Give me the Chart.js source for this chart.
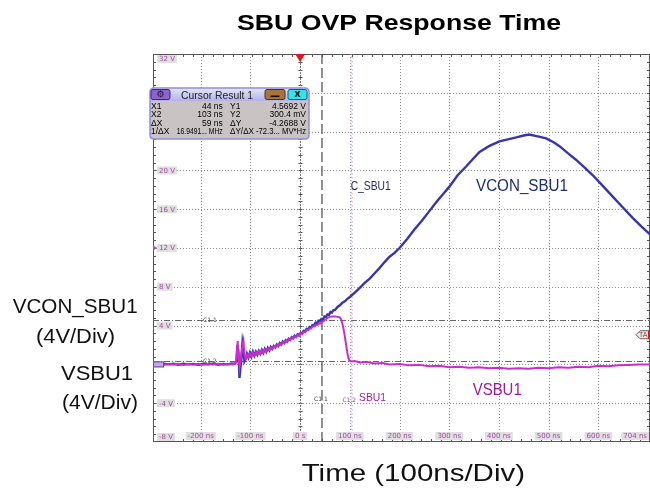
<!DOCTYPE html>
<html><head><meta charset="utf-8">
<script src="https://cdn.jsdelivr.net/npm/chart.js@4/dist/chart.umd.min.js"></script>
<style>html,body{margin:0;padding:0;background:#fff;}canvas{display:block}</style>
</head><body>
<canvas id="c" width="650" height="488"></canvas>
<script>
// ---- data ----
const vconTime = [-296,-285,-275,-265,-255,-245,-235,-225,-215,-205,-195,-185,-175,-165,-155,-145,-138,-132,-128,-126,-124,-122,-120,-118,-116,-114,-112,-110,-107,-104,-101,-98,-95,-92,-89,-86,-83,-80,-77,-74,-71,-68,-65,-62,-59,-56,-53,-50,-47,-44,-41,-38,-35,-32,-29,-26,-23,-20,-17,-14,-11,-8,-5,-2,1,4,7,10,13,16,19,22,25,28,31,34,37,40,43,46,49,52,55,58,61,64,67,70,75,80,85,90,95,100,110,120,130,140,150,160,170,180,190,200,215,230,245,260,275,290,300,317,334,350,361,380,401,418,435,450,461,478,495,510,522,538,555,572,589,609,629,649,669,687,704];
const vconVolts = [0.05,-0.05,0.08,0.0,0.06,-0.04,0.07,0.0,0.05,-0.05,0.06,0.0,0.08,-0.03,0.05,0.0,0.1,0.05,0.3,2.0,1.2,-1.4,-0.3,0.6,2.2,1.5,0.3,0.5,1.1,0.7,1.2,0.8,1.3,0.9,1.3,1.0,1.4,1.1,1.5,1.2,1.6,1.3,1.7,1.45,1.8,1.6,1.9,1.75,2.05,1.9,2.2,2.05,2.35,2.2,2.5,2.35,2.65,2.55,2.8,2.7,2.95,2.85,3.1,3.0,3.25,3.2,3.45,3.4,3.65,3.6,3.85,3.8,4.05,4.0,4.3,4.25,4.5,4.45,4.7,4.65,4.95,4.9,5.15,5.1,5.4,5.35,5.6,5.6,5.9,6.1,6.35,6.5,6.75,6.95,7.4,7.9,8.4,8.85,9.4,9.95,10.55,11.1,11.5,12.0,12.9,13.9,14.8,15.8,16.8,17.7,18.3,19.5,20.4,21.3,21.9,22.5,23.0,23.2,23.4,23.6,23.7,23.5,23.3,22.9,22.5,21.8,21.1,20.3,19.5,18.4,17.3,16.2,15.1,14.2,13.4];

const vsbuTime = [-296,-285,-275,-265,-255,-245,-235,-225,-215,-205,-195,-185,-175,-165,-155,-145,-135,-129,-127,-125.5,-124,-122,-120,-117,-114,-112,-110,-107,-104,-101,-98,-95,-92,-89,-86,-83,-80,-77,-74,-71,-68,-65,-62,-59,-56,-53,-50,-47,-44,-41,-38,-35,-32,-29,-26,-23,-20,-17,-14,-11,-8,-5,-2,1,4,7,10,13,16,19,22,25,28,31,34,37,40,43,46,49,52,55,60,65,70,75,80,83,86,89,92,95,97,99,103,110,120,135,150,165,180,200,220,240,260,280,300,320,340,360,380,400,420,440,460,480,500,520,540,560,580,600,620,640,660,680,704];
const vsbuVolts = [0.0,0.08,-0.05,0.05,-0.02,0.07,-0.05,0.04,-0.03,0.06,-0.04,0.05,0.0,0.07,-0.03,0.05,0.0,0.2,1.5,2.4,0.8,-0.3,0.4,1.6,2.4,1.0,0.6,1.0,0.75,1.1,0.85,1.2,0.95,1.25,1.05,1.35,1.1,1.45,1.25,1.55,1.35,1.65,1.5,1.75,1.6,1.85,1.75,2.0,1.9,2.15,2.05,2.3,2.2,2.45,2.35,2.6,2.5,2.75,2.65,2.9,2.8,3.05,2.95,3.2,3.15,3.35,3.3,3.55,3.5,3.7,3.7,3.9,3.9,4.05,4.05,4.2,4.2,4.35,4.4,4.55,4.65,4.8,4.9,4.95,4.95,4.9,4.85,4.6,4.0,3.2,2.2,1.2,0.7,0.4,0.3,0.35,0.2,0.25,0.1,0.15,0.0,0.05,-0.1,-0.05,-0.2,-0.15,-0.3,-0.25,-0.35,-0.3,-0.4,-0.35,-0.45,-0.4,-0.45,-0.35,-0.4,-0.3,-0.35,-0.25,-0.3,-0.15,-0.2,-0.1,-0.05,0.0,0.0];

const xTickValues = [-200,-100,0,100,200,300,400,500,600,704];
const xTickLabels = ['-200 ns','-100 ns','0 s','100 ns','200 ns','300 ns','400 ns','500 ns','600 ns','704 ns'];
const yTickValues = [32,28,24,20,16,12,8,4,0,-4,-8];
const yTickLabels = ['32 V','28 V','24 V','20 V','16 V','12 V','8 V','4 V','','-4 V','-8 V'];
const cursorX = [44,103];
const cursorY = [4.5692,0.3004];
const triggerLevel = [3.06];
const cursorRows = [
  ['X1','44 ns','Y1','4.5692 V'],
  ['X2','103 ns','Y2','300.4 mV'],
  ['\u0394X','59 ns','\u0394Y','-4.2688 V'],
  ['1/\u0394X','16.9491... MHz','\u0394Y/\u0394X','-72.3... MV*Hz']
];

const FONT = "'Liberation Sans', Arial, sans-serif";

function spanText(ctx, txt, left, right, base, font, color){
  ctx.save();
  ctx.font = font; ctx.fillStyle = color;
  ctx.textAlign = 'left'; ctx.textBaseline = 'alphabetic';
  const w = ctx.measureText(txt).width;
  ctx.translate(left, base);
  ctx.scale((right-left)/w, 1);
  ctx.fillText(txt, 0, 0);
  ctx.restore();
}
function labelBox(ctx, txt, cx, cy, a, alignRight){
  ctx.font = "7px 'DejaVu Sans', sans-serif";
  const w = ctx.measureText(txt).width + 4, h = 8;
  let l = cx - w/2;
  if (alignRight) l = cx - w;
  if (l + w > a.right - 1) l = a.right - 1 - w;
  ctx.fillStyle = '#e0dfe0';
  ctx.fillRect(l, cy - h/2, w, h);
  ctx.fillStyle = '#a548a5';
  ctx.textAlign = 'left'; ctx.textBaseline = 'middle';
  ctx.fillText(txt, l + 2, cy + 0.5);
}
function rrect(ctx, x, y, w, h, r){
  ctx.beginPath();
  ctx.moveTo(x+r, y); ctx.lineTo(x+w-r, y); ctx.quadraticCurveTo(x+w, y, x+w, y+r);
  ctx.lineTo(x+w, y+h-r); ctx.quadraticCurveTo(x+w, y+h, x+w-r, y+h);
  ctx.lineTo(x+r, y+h); ctx.quadraticCurveTo(x, y+h, x, y+h-r);
  ctx.lineTo(x, y+r); ctx.quadraticCurveTo(x, y, x+r, y);
  ctx.closePath();
}

const scopePlugin = {
  id: 'scope',
  beforeDatasetsDraw(chart){
    const {ctx, chartArea: a, scales: {x, y}} = chart;
    ctx.save();
    // grid
    ctx.strokeStyle = '#8c8c8c'; ctx.lineWidth = 1; ctx.setLineDash([1,2]);
    xTickValues.forEach(v => {
      if (v <= x.min || v >= x.max) return;
      const px = Math.round(x.getPixelForValue(v)) + 0.5;
      ctx.beginPath(); ctx.moveTo(px, a.top); ctx.lineTo(px, a.bottom); ctx.stroke();
    });
    yTickValues.forEach(v => {
      if (v <= y.min || v >= y.max) return;
      const py = Math.round(y.getPixelForValue(v)) + 0.5;
      ctx.beginPath(); ctx.moveTo(a.left, py); ctx.lineTo(a.right, py); ctx.stroke();
    });
    ctx.setLineDash([]);
    // minor ticks along border and on 0 s line
    ctx.strokeStyle = '#555'; ctx.lineWidth = 1;
    const xStep = (x.max - x.min) / 50, yStep = (y.max - y.min) / 50;
    const x0 = Math.round(x.getPixelForValue(0)) + 0.5;
    for (let i = 1; i < 50; i++){
      const px = Math.round(x.getPixelForValue(x.min + i*xStep)) + 0.5;
      ctx.beginPath();
      ctx.moveTo(px, a.top); ctx.lineTo(px, a.top + 3);
      ctx.moveTo(px, a.bottom); ctx.lineTo(px, a.bottom - 3);
      ctx.stroke();
      const py = Math.round(y.getPixelForValue(y.min + i*yStep)) + 0.5;
      ctx.beginPath();
      ctx.moveTo(a.left, py); ctx.lineTo(a.left + 3, py);
      ctx.moveTo(a.right, py); ctx.lineTo(a.right - 3, py);
      ctx.moveTo(x0 - 2, py); ctx.lineTo(x0 + 2, py);
      ctx.stroke();
    }
    ctx.strokeStyle = '#777'; ctx.setLineDash([2,1]);
    ctx.beginPath(); ctx.moveTo(x0, a.top); ctx.lineTo(x0, a.bottom); ctx.stroke();
    ctx.setLineDash([]);
    // border
    ctx.strokeStyle = '#555';
    ctx.strokeRect(a.left + 0.5, a.top + 0.5, a.right - a.left - 1, a.bottom - a.top - 1);
    // horizontal cursors
    ctx.strokeStyle = '#666'; ctx.setLineDash([6,2,1,2]);
    cursorY.forEach(v => {
      const py = Math.round(y.getPixelForValue(v)) + 0.5;
      ctx.beginPath(); ctx.moveTo(a.left, py); ctx.lineTo(a.right, py); ctx.stroke();
    });
    // vertical cursors
    const cx1 = x.getPixelForValue(cursorX[0]);
    ctx.strokeStyle = '#555'; ctx.lineWidth = 1.3; ctx.setLineDash([10,4]);
    ctx.beginPath(); ctx.moveTo(cx1, a.top); ctx.lineTo(cx1, a.bottom); ctx.stroke();
    const cx2 = x.getPixelForValue(cursorX[1]);
    ctx.strokeStyle = '#c38fcf'; ctx.lineWidth = 1; ctx.setLineDash([1,2]);
    ctx.beginPath(); ctx.moveTo(cx2 - 0.5, a.top); ctx.lineTo(cx2 - 0.5, a.bottom); ctx.stroke();
    ctx.setLineDash([]);
    for (let py = a.top + 3; py < a.bottom; py += 4){
      ctx.beginPath(); ctx.moveTo(cx2, py); ctx.lineTo(cx2 + 1.5, py + 1); ctx.stroke();
    }
    ctx.restore();
  },
  afterDatasetsDraw(chart){
    const {ctx, chartArea: a, scales: {x, y}} = chart;
    ctx.save();
    // y tick labels
    yTickValues.forEach((v, i) => {
      if (!yTickLabels[i]) return;
      let cy = y.getPixelForValue(v);
      cy = Math.min(Math.max(cy, a.top + 5), a.bottom - 5);
      ctx.font = "7px 'DejaVu Sans', sans-serif";
      const w = ctx.measureText(yTickLabels[i]).width + 4;
      labelBox(ctx, yTickLabels[i], a.left + 4 + w/2, cy, a);
    });
    // x tick labels
    xTickValues.forEach((v, i) => {
      labelBox(ctx, xTickLabels[i], x.getPixelForValue(v), a.bottom - 6, a);
    });
    // channel / position markers
    const y0 = y.getPixelForValue(0);
    ctx.fillStyle = '#c9a6e6'; ctx.strokeStyle = '#6a4aa8'; ctx.lineWidth = 1;
    ctx.fillRect(a.left, y0 - 3, 11, 6); ctx.strokeRect(a.left + 0.5, y0 - 2.5, 10, 5);
    const y12 = y.getPixelForValue(12);
    ctx.fillStyle = '#b050c0';
    ctx.beginPath(); ctx.moveTo(a.left, y12 - 3); ctx.lineTo(a.left + 4, y12); ctx.lineTo(a.left, y12 + 3); ctx.closePath(); ctx.fill();
    // trigger position triangle
    const xt = x.getPixelForValue(0);
    ctx.fillStyle = '#e3141c';
    ctx.beginPath(); ctx.moveTo(xt - 5, a.top); ctx.lineTo(xt + 5, a.top); ctx.lineTo(xt, a.top + 8); ctx.closePath(); ctx.fill();
    // trigger level marker "TA"
    const yt = y.getPixelForValue(triggerLevel[0]);
    ctx.fillStyle = '#efe6e6'; ctx.strokeStyle = '#7a5a5a';
    ctx.beginPath();
    ctx.moveTo(a.right - 14, yt); ctx.lineTo(a.right - 10, yt - 4); ctx.lineTo(a.right, yt - 4);
    ctx.lineTo(a.right, yt + 4); ctx.lineTo(a.right - 10, yt + 4); ctx.closePath();
    ctx.fill(); ctx.stroke();
    ctx.fillStyle = '#d01818'; ctx.fillRect(a.right - 2, yt - 4, 2, 8);
    ctx.fillStyle = '#7a4a4a'; ctx.font = "7px 'DejaVu Sans', sans-serif";
    ctx.textAlign = 'left'; ctx.textBaseline = 'middle';
    ctx.fillText('TA', a.right - 11, yt + 0.5);
    // cursor labels
    ctx.font = "6px 'DejaVu Sans', sans-serif"; ctx.textBaseline = 'alphabetic';
    ctx.fillStyle = '#444';
    ctx.fillText('C1.1', a.left + 50, y.getPixelForValue(cursorY[0]) + 2);
    ctx.fillText('C1.2', a.left + 50, y.getPixelForValue(cursorY[1]) + 2);
    ctx.textAlign = 'center';
    ctx.fillText('C1.1', x.getPixelForValue(cursorX[0]) - 1, 401);
    ctx.fillStyle = '#a050a0';
    ctx.fillText('C1.2', x.getPixelForValue(cursorX[1]) - 2, 402);
    // annotations
    spanText(ctx, 'C_SBU1', 350.7, 390.7, 190, "12px " + FONT, '#2a2a6e');
    spanText(ctx, 'VCON_SBU1', 476, 568, 191, "16px " + FONT, '#1f2d6e');
    spanText(ctx, 'SBU1', 359, 386, 401, "11px " + FONT, '#9d1f9d');
    spanText(ctx, 'VSBU1', 472.7, 521.7, 395, "17px " + FONT, '#9b1c9b');
    // cursor result box
    const bx = 150, by = 88, bw = 159, bh = 51;
    rrect(ctx, bx, by, bw, bh, 4);
    ctx.fillStyle = '#c9c3c4'; ctx.fill();
    const g = ctx.createLinearGradient(0, by, 0, by + 13);
    g.addColorStop(0, '#e6e6fb'); g.addColorStop(1, '#b2b2ea');
    ctx.save(); rrect(ctx, bx, by, bw, bh, 4); ctx.clip();
    ctx.fillStyle = g; ctx.fillRect(bx, by, bw, 13);
    ctx.restore();
    rrect(ctx, bx, by, bw, bh, 4);
    ctx.strokeStyle = '#8f8fdc'; ctx.lineWidth = 1.5; ctx.stroke();
    // buttons
    ctx.lineWidth = 1;
    ctx.fillStyle = '#8f62d2'; ctx.strokeStyle = '#3a2a66';
    rrect(ctx, 151, 89.5, 19, 10, 2); ctx.fill(); ctx.stroke();
    ctx.fillStyle = '#1a1a1a'; ctx.font = "9px 'DejaVu Sans', sans-serif"; ctx.textAlign = 'center'; ctx.textBaseline = 'middle';
    ctx.fillText('\u2699', 160.5, 95);
    ctx.fillStyle = '#a8743e'; ctx.strokeStyle = '#4e3012';
    rrect(ctx, 265, 89.5, 20, 10, 2); ctx.fill(); ctx.stroke();
    ctx.fillStyle = '#111'; ctx.fillRect(270.5, 95.5, 9, 1.6);
    ctx.fillStyle = '#35e2ec'; ctx.strokeStyle = '#0e5f6a';
    rrect(ctx, 288, 89.5, 19, 10, 2); ctx.fill(); ctx.stroke();
    ctx.fillStyle = '#111'; ctx.font = "bold 10px 'DejaVu Sans', sans-serif";
    ctx.fillText('x', 297.5, 94);
    spanText(ctx, 'Cursor Result 1', 181, 253, 98.5, "11px " + FONT, '#222');
    // rows
    const bases = [109, 117.3, 125.6, 134];
    ctx.font = "8.5px " + FONT; ctx.fillStyle = '#000'; ctx.textBaseline = 'alphabetic';
    cursorRows.forEach((r, i) => {
      const b = bases[i];
      ctx.textAlign = 'left';  ctx.fillText(r[0], 151, b, 24);
      ctx.textAlign = 'right'; ctx.fillText(r[1], 222.7, b, 46);
      ctx.textAlign = 'left';  ctx.fillText(r[2], 230, b, 24);
      ctx.textAlign = 'right'; ctx.fillText(r[3], 306, b, 50);
    });
    ctx.restore();
  },
  afterDraw(chart){
    const ctx = chart.ctx;
    ctx.save();
    spanText(ctx, 'SBU OVP Response Time', 237, 561, 29.5, "bold 22px " + FONT, '#000');
    spanText(ctx, 'Time (100ns/Div)', 301.7, 525, 480.5, "24px " + FONT, '#111');
    spanText(ctx, 'VCON_SBU1', 12.7, 137.7, 313, "20px " + FONT, '#111');
    spanText(ctx, '(4V/Div)', 36, 115, 343, "20px " + FONT, '#111');
    spanText(ctx, 'VSBU1', 61, 133, 380, "20px " + FONT, '#111');
    spanText(ctx, '(4V/Div)', 62, 138, 409, "20px " + FONT, '#111');
    ctx.restore();
  }
};

new Chart(document.getElementById('c').getContext('2d'), {
  type: 'line',
  data: {
    datasets: [
      { label: 'VSBU1', data: vsbuTime.map((t, i) => ({x: t, y: vsbuVolts[i]})),
        borderColor: '#cc2ccc', borderWidth: 2, pointRadius: 0, tension: 0, order: 0 },
      { label: 'VCON_SBU1', data: vconTime.map((t, i) => ({x: t, y: vconVolts[i]})),
        borderColor: '#3636ac', borderWidth: 2.4, pointRadius: 0, tension: 0, order: 1 }
    ]
  },
  options: {
    responsive: false, animation: false, events: [],
    layout: { padding: { left: 153, top: 54, right: 0, bottom: 46 } },
    plugins: { legend: { display: false }, tooltip: { enabled: false }, title: { display: false } },
    scales: {
      x: { type: 'linear', min: -296, max: 704, display: false },
      y: { type: 'linear', min: -8, max: 32, display: false }
    }
  },
  plugins: [scopePlugin]
});
</script>
</body></html>
